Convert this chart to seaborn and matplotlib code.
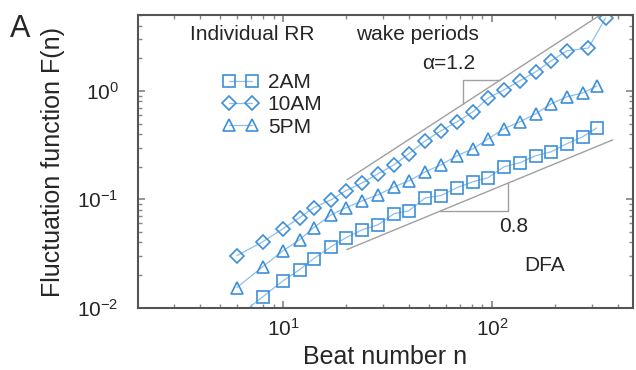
import numpy as np
import matplotlib
matplotlib.use("Agg")
import matplotlib.pyplot as plt
import seaborn as sns

# beat numbers (window sizes)
n_common = [6, 8, 10, 12, 14, 17, 20, 24, 28.5, 34, 40, 48, 57, 68, 81, 96,
            114, 136, 162, 192, 228, 272, 318]
n_10am = [6, 8, 10, 12, 14, 17, 20, 24, 28.5, 34, 40, 48, 57, 68, 81, 96,
          114, 136, 162, 192, 228, 290, 350]

f_2am = [0.0081, 0.0126, 0.0177, 0.0224, 0.0283, 0.0365, 0.0442, 0.0524, 0.0582,
         0.0735, 0.0783, 0.103, 0.108, 0.128, 0.145, 0.158, 0.199, 0.217, 0.252,
         0.274, 0.325, 0.377, 0.456]
f_10am = [0.0301, 0.0406, 0.0535, 0.0676, 0.0835, 0.0989, 0.120, 0.142, 0.172,
          0.208, 0.263, 0.346, 0.428, 0.518, 0.640, 0.861, 1.02, 1.24, 1.50,
          1.89, 2.34, 2.49, 4.71]
f_5pm = [0.0153, 0.0239, 0.0335, 0.0423, 0.0546, 0.0720, 0.0835, 0.0969, 0.110,
         0.130, 0.148, 0.179, 0.208, 0.252, 0.292, 0.361, 0.447, 0.518, 0.614,
         0.759, 0.881, 0.958, 1.11]

# reference power-law guide lines (end points) and slope triangles
guide_hi_n = [20.2, 329]
guide_hi_f = [0.151, 5.0]
guide_lo_n = [20.2, 379]
guide_lo_f = [0.0343, 0.353]
tri_hi_n = [72.6, 109]
tri_lo_n = [56.4, 119]

sns.set_theme(style="ticks")
plt.rcParams["font.family"] = ["Liberation Sans", "DejaVu Sans"]
plt.rcParams["mathtext.fontset"] = "custom"
plt.rcParams["mathtext.rm"] = "Liberation Sans"

fig = plt.figure(figsize=(6.36, 3.70), dpi=100)
ax = fig.add_axes([0.217, 0.168, 0.778, 0.791])

edge = "#3d8fd9"
line_c = "#8cc0ec"
grey = "#a0a0a0"


def on_line(n, ns, fs):
    k = np.log(fs[1] / fs[0]) / np.log(ns[1] / ns[0])
    return fs[0] * (n / ns[0]) ** k


# guide lines
ax.plot(guide_hi_n, guide_hi_f, color=grey, lw=1)
ax.plot(guide_lo_n, guide_lo_f, color=grey, lw=1)
a, b = tri_hi_n
top = on_line(b, guide_hi_n, guide_hi_f)
ax.plot([a, a, b], [on_line(a, guide_hi_n, guide_hi_f), top, top], color=grey, lw=1)
a, b = tri_lo_n
low = on_line(a, guide_lo_n, guide_lo_f)
ax.plot([a, b, b], [low, low, on_line(b, guide_lo_n, guide_lo_f)], color=grey, lw=1)

series = [
    ("2AM", n_common, f_2am, "s"),
    ("10AM", n_10am, f_10am, "D"),
    ("5PM", n_common, f_5pm, "^"),
]
for label, xs, ys, mk in series:
    ms = 7 if mk == "D" else 8.5
    sns.lineplot(x=xs, y=ys, ax=ax, color=line_c, lw=0.9, marker=mk, ms=ms,
                 markerfacecolor="none", markeredgecolor=edge, markeredgewidth=1.2,
                 label=label, sort=False)

ax.set_xscale("log")
ax.set_yscale("log")
ax.set_xlim(2.02, 473)
ax.set_ylim(0.00995, 5.0)

leg = ax.legend(loc="upper left", bbox_to_anchor=(0.155, 0.83), frameon=False,
                numpoints=2, handlelength=1.7, handletextpad=0.45,
                labelspacing=0.15, fontsize=15, borderaxespad=0)

for s in ax.spines.values():
    s.set_color("#555555")
    s.set_linewidth(1.5)
ax.tick_params(which="both", direction="in", top=True, right=True, color="#888888")
ax.tick_params(which="major", length=5, labelsize=15, pad=14)
ax.tick_params(axis="x", which="major", pad=7)
ax.tick_params(which="minor", length=3)

ax.set_xlabel("Beat number n", fontsize=18, labelpad=4)
ax.set_ylabel("Fluctuation function F(n)", fontsize=18, labelpad=4)
ax.yaxis.set_label_coords(-0.148, 0.5)

ax.text(0.105, 0.915, "Individual RR", transform=ax.transAxes, fontsize=15)
ax.text(0.44, 0.915, "wake periods", transform=ax.transAxes, fontsize=15)
ax.text(0.575, 0.815, "α=1.2", transform=ax.transAxes, fontsize=15)
ax.text(0.73, 0.26, "0.8", transform=ax.transAxes, fontsize=15)
ax.text(0.78, 0.125, "DFA", transform=ax.transAxes, fontsize=15)
fig.text(0.016, 0.9, "A", fontsize=22)

plt.savefig("out.png", dpi=100)
plt.close(fig)
